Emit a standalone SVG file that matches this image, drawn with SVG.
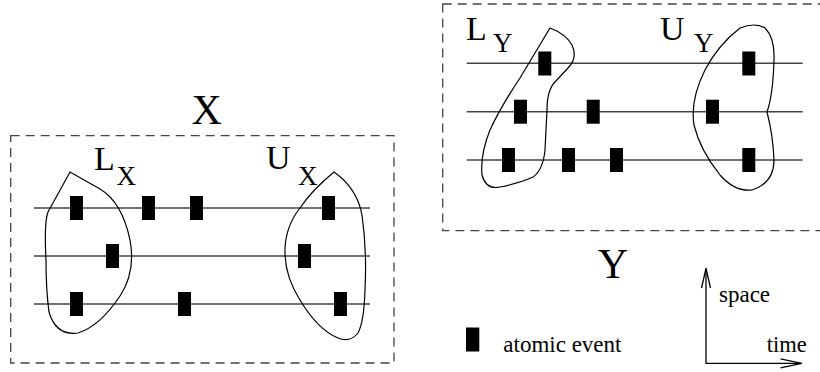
<svg xmlns="http://www.w3.org/2000/svg" width="820" height="372" viewBox="0 0 820 372">
<style>
.box{fill:none;stroke:#444;stroke-width:1.3;stroke-dasharray:9 6}
.line{stroke:#444;stroke-width:1.6;fill:none}
.blob{fill:none;stroke:#000;stroke-width:1.2}
.ev{fill:#000}
text{font-family:'Liberation Serif','DejaVu Serif',serif;fill:#000}
.title{font-size:42px}
.big{font-size:34px}
.sub{font-size:27px}
.small{font-size:23px}
.axis{fill:none;stroke:#000;stroke-width:1.3}
</style>
<defs>
<rect id="e" class="ev" width="13" height="24"/>
</defs>

<g id="nodeX">
<rect class="box" x="10.7" y="135.7" width="383.3" height="227.3"/>
<text class="title" text-anchor="middle" x="206.7" y="124">X</text>
<line class="line" x1="34" y1="208" x2="370" y2="208"/>
<line class="line" x1="34" y1="256" x2="370" y2="256"/>
<line class="line" x1="34" y1="304" x2="370" y2="304"/>
<use href="#e" x="70" y="196"/>
<use href="#e" x="142" y="196"/>
<use href="#e" x="190" y="196"/>
<use href="#e" x="322" y="196"/>
<use href="#e" x="106" y="244"/>
<use href="#e" x="298" y="244"/>
<use href="#e" x="70" y="292"/>
<use href="#e" x="178" y="292"/>
<use href="#e" x="334" y="292"/>
</g>

<g id="LX">
<path class="blob" d="M70,172 L100,189 Q122,202 130,240 Q136,272 120,296 Q100,326 78,333 Q56,336 49,312 Q46,290 46,260 Q44,222 48,212 Z"/>
<text class="big" x="94" y="169.5">L</text>
<text class="sub" x="116.5" y="184.5">X</text>
</g>

<g id="UX">
<path class="blob" d="M334,172 Q357,188 362,215 Q367,250 365,290 Q364,322 358,333 Q350,343 338,338 Q318,330 300,300 Q286,278 285,255 Q284,228 300,208 Q312,190 334,172 Z"/>
<text class="big" x="266" y="169">U</text>
<text class="sub" x="298" y="185">X</text>
</g>

<g id="nodeY">
<rect class="box" x="442.7" y="4" width="400" height="226.7"/>
<text class="title" text-anchor="middle" x="613" y="278">Y</text>
<line class="line" x1="466.7" y1="63.3" x2="802.7" y2="63.3"/>
<line class="line" x1="466.7" y1="111.7" x2="802.7" y2="111.7"/>
<line class="line" x1="466.7" y1="160" x2="802.7" y2="160"/>
<use href="#e" x="538.3" y="51.5"/>
<use href="#e" x="742.3" y="51.5"/>
<use href="#e" x="514" y="99.7"/>
<use href="#e" x="586.7" y="99.7"/>
<use href="#e" x="706" y="99.7"/>
<use href="#e" x="502" y="148"/>
<use href="#e" x="562" y="148"/>
<use href="#e" x="610" y="148"/>
<use href="#e" x="742.3" y="148"/>
</g>

<g id="LY">
<path class="blob" d="M550,28 Q566,34 572,45 Q578,58 568,68 L555,82 Q547,90 547,110 L545,150 Q543,170 533,177 Q520,183 500,187 Q486,190 482,175 Q480,155 490,130 Q500,108 520,78 L550,28 Z"/>
<text class="big" x="466" y="40">L</text>
<text class="sub" x="493" y="51.7">Y</text>
</g>

<g id="UY">
<path class="blob" d="M740,28 Q755,22 765,28 Q775,38 774,60 Q773,95 767,112 Q773,135 774,160 Q774,183 752,190 Q735,192 720,175 Q700,150 694,125 Q690,100 705,70 Q718,45 740,28 Z"/>
<text class="big" x="660" y="40">U</text>
<text class="sub" x="694" y="51.7">Y</text>
</g>

<g id="legend">
<rect class="ev" x="466" y="327.5" width="13.3" height="24"/>
<text class="small" x="503.3" y="351.7">atomic event</text>
</g>

<g id="connectors">
<polyline class="axis" points="706,268.3 706,363.3 801.7,363.3"/>
<polyline class="axis" points="701.5,288 706,268.3 710.5,288"/>
<polyline class="axis" points="780.5,358.8 801.7,363.3 780.5,367.8"/>
</g>

<g id="axislabels">
<text class="small" x="719" y="302">space</text>
<text font-size="22.5" x="766.7" y="351.7">time</text>
</g>
</svg>
